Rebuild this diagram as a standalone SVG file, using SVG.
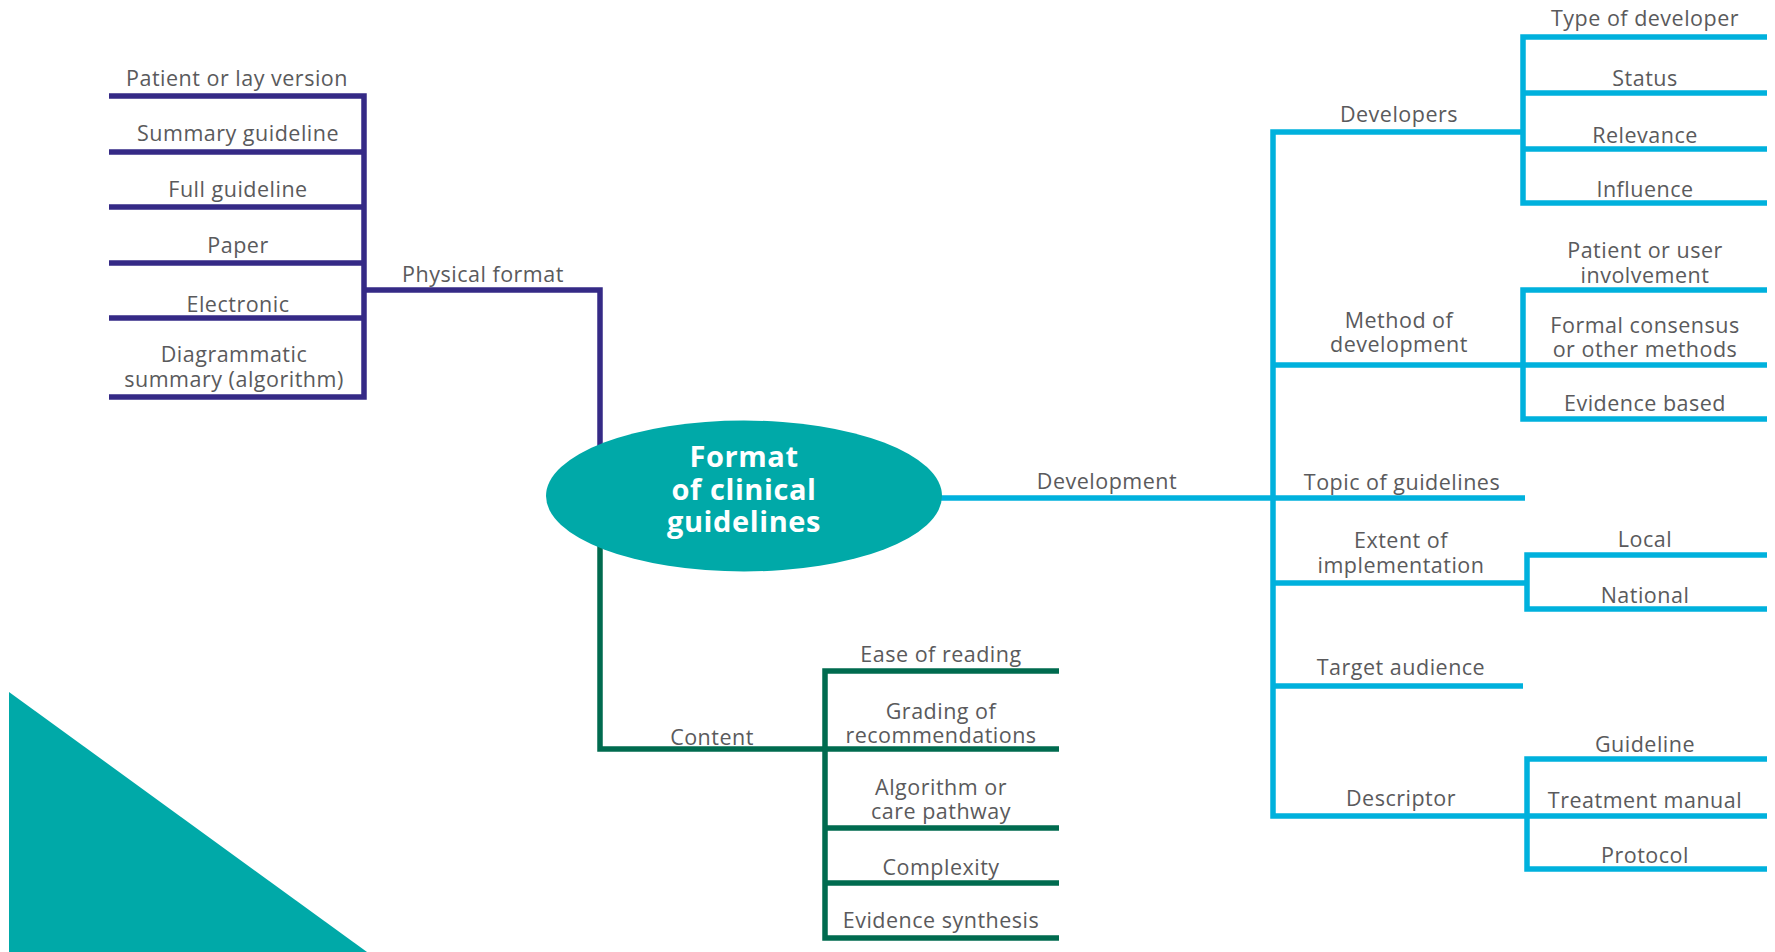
<svg xmlns="http://www.w3.org/2000/svg" width="1775" height="952" viewBox="0 0 1775 952">
<style>
.t{font-family:"Open Sans","Noto Sans","Liberation Sans",sans-serif;font-size:21.5px;letter-spacing:0.5px;fill:#5a5a5c;text-anchor:middle}
.title{font-family:"Open Sans","Noto Sans","Liberation Sans",sans-serif;font-size:29px;letter-spacing:0.6px;font-weight:bold;fill:#ffffff;text-anchor:middle}
.p{fill:none;stroke:#352a86;stroke-width:5.5}
.g{fill:none;stroke:#006b4f;stroke-width:5.5}
.c{fill:none;stroke:#00b1dd;stroke-width:5.5}
</style>
<rect width="1775" height="952" fill="#ffffff"/>
<polygon points="9,692 9,952 367,952" fill="#00a9a8"/>
<g id="connectors">
<path class="p" d="M600,452 V290 H364"/>
<path class="p" d="M109,96 H364 V397 H109 M109,152 H364 M109,207 H364 M109,263 H364 M109,318 H364"/>
<path class="g" d="M600,545 V749 H825"/>
<path class="g" d="M1059,671 H825 V938 H1059 M825,749 H1059 M825,828 H1059 M825,883 H1059"/>
<path class="c" d="M930,498 H1525"/>
<path class="c" d="M1523,132 H1273 V816 H1767"/>
<path class="c" d="M1767,37 H1523 V203 H1767 M1523,93 H1767 M1523,149 H1767"/>
<path class="c" d="M1273,365 H1767 M1767,290 H1523 V419 H1767"/>
<path class="c" d="M1273,583 H1527 M1767,555 H1527 V609 H1767"/>
<path class="c" d="M1273,686 H1523"/>
<path class="c" d="M1767,759 H1527 V869 H1767"/>
</g>
<g id="center">
<ellipse cx="744" cy="496" rx="198" ry="75.5" fill="#00a9a8"/>
<text class="title" x="744" y="467">Format</text>
<text class="title" x="744" y="500">of clinical</text>
<text class="title" x="744" y="532">guidelines</text>
</g>
<g id="physical-format"><text class="t" x="483" y="282">Physical format</text></g>
<g id="patient-lay"><text class="t" x="237" y="86">Patient or lay version</text></g>
<g id="summary-guideline"><text class="t" x="238" y="141">Summary guideline</text></g>
<g id="full-guideline"><text class="t" x="238" y="197">Full guideline</text></g>
<g id="paper"><text class="t" x="238" y="253">Paper</text></g>
<g id="electronic"><text class="t" x="238" y="312">Electronic</text></g>
<g id="diagrammatic"><text class="t" x="234" y="362">Diagrammatic</text><text class="t" x="234" y="387">summary (algorithm)</text></g>
<g id="content"><text class="t" x="712" y="745">Content</text></g>
<g id="ease"><text class="t" x="941" y="662">Ease of reading</text></g>
<g id="grading"><text class="t" x="941" y="719">Grading of</text><text class="t" x="941" y="743">recommendations</text></g>
<g id="algorithm"><text class="t" x="941" y="795">Algorithm or</text><text class="t" x="941" y="819">care pathway</text></g>
<g id="complexity"><text class="t" x="941" y="875">Complexity</text></g>
<g id="evidence-synthesis"><text class="t" x="941" y="928">Evidence synthesis</text></g>
<g id="development"><text class="t" x="1107" y="489">Development</text></g>
<g id="developers"><text class="t" x="1399" y="122">Developers</text></g>
<g id="type"><text class="t" x="1645" y="26">Type of developer</text></g>
<g id="status"><text class="t" x="1645" y="86">Status</text></g>
<g id="relevance"><text class="t" x="1645" y="143">Relevance</text></g>
<g id="influence"><text class="t" x="1645" y="197">Influence</text></g>
<g id="method"><text class="t" x="1399" y="328">Method of</text><text class="t" x="1399" y="352">development</text></g>
<g id="patient-user"><text class="t" x="1645" y="258">Patient or user</text><text class="t" x="1645" y="283">involvement</text></g>
<g id="formal"><text class="t" x="1645" y="333">Formal consensus</text><text class="t" x="1645" y="357">or other methods</text></g>
<g id="evidence-based"><text class="t" x="1645" y="411">Evidence based</text></g>
<g id="topic"><text class="t" x="1402" y="490">Topic of guidelines</text></g>
<g id="extent"><text class="t" x="1401" y="548">Extent of</text><text class="t" x="1401" y="573">implementation</text></g>
<g id="local"><text class="t" x="1645" y="547">Local</text></g>
<g id="national"><text class="t" x="1645" y="603">National</text></g>
<g id="target"><text class="t" x="1401" y="675">Target audience</text></g>
<g id="descriptor"><text class="t" x="1401" y="806">Descriptor</text></g>
<g id="guideline"><text class="t" x="1645" y="752">Guideline</text></g>
<g id="treatment"><text class="t" x="1645" y="808">Treatment manual</text></g>
<g id="protocol"><text class="t" x="1645" y="863">Protocol</text></g>
</svg>
